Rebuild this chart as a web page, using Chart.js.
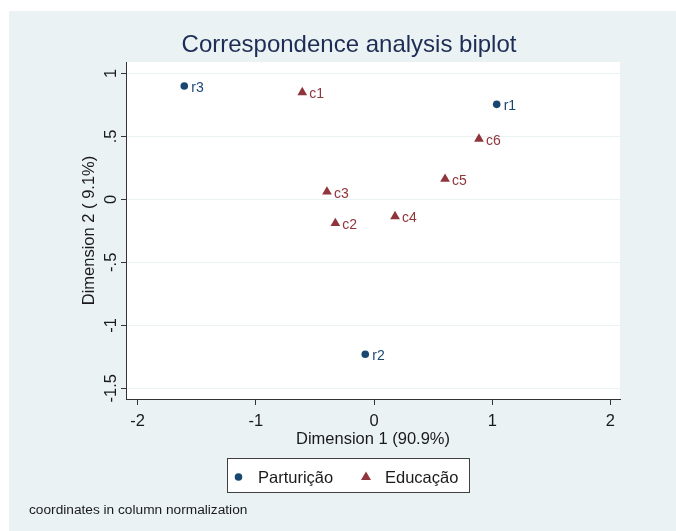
<!DOCTYPE html>
<html>
<head>
<meta charset="utf-8">
<script src="https://cdn.jsdelivr.net/npm/chart.js@4"></script>
<style>
  html, body { margin: 0; padding: 0; background: #ffffff; }
  #wrap { width: 676px; height: 531px; }
</style>
</head>
<body>
<div id="wrap"><canvas id="biplot" width="676" height="531"></canvas></div>
<script>
// row points (Parturição)
const rowLabels = ["r1", "r2", "r3"];
const rowX = [1.038, -0.074, -1.605];
const rowY = [0.754, -1.230, 0.899];

// column points (Educação)
const colLabels = ["c1", "c2", "c3", "c4", "c5", "c6"];
const colX = [-0.607, -0.327, -0.398, 0.178, 0.601, 0.888];
const colY = [0.849, -0.190, 0.060, -0.135, 0.161, 0.479];

const xTicks = [-2, -1, 0, 1, 2];
const yTicks = [-1.5, -1, -0.5, 0, 0.5, 1];
const yTickText = ["-1.5", "-1", "-.5", "0", ".5", "1"];

const NAVY = "#1a476f";
const MAROON = "#90353b";
const PANEL = "#eaf2f3";
const FONT = "'Liberation Sans', Arial, sans-serif";

const stataLook = {
  id: "stataLook",
  beforeDraw(chart) {
    const { ctx, chartArea } = chart;
    ctx.save();
    ctx.fillStyle = "#ffffff";
    ctx.fillRect(0, 0, chart.width, chart.height);
    ctx.fillStyle = PANEL;
    ctx.fillRect(9, 11, chart.width - 9, chart.height - 11);
    ctx.fillStyle = "#ffffff";
    ctx.fillRect(chartArea.left, chartArea.top,
      chartArea.right - chartArea.left, chartArea.bottom - chartArea.top);
    ctx.restore();
  },
  afterDraw(chart) {
    const { ctx, chartArea } = chart;
    const ys = chart.scales.y;
    ctx.save();

    // y tick labels, rotated like Stata
    ctx.fillStyle = "#1a1a1a";
    ctx.font = "16.5px " + FONT;
    ctx.textAlign = "center";
    ctx.textBaseline = "middle";
    yTicks.forEach((v, i) => {
      const py = ys.getPixelForValue(v);
      ctx.save();
      ctx.translate(111, py);
      ctx.rotate(-Math.PI / 2);
      ctx.fillText(yTickText[i], 0, 0);
      ctx.restore();
    });

    // axis titles
    ctx.save();
    ctx.translate(89, (chartArea.top + chartArea.bottom) / 2);
    ctx.rotate(-Math.PI / 2);
    ctx.fillText("Dimension 2 ( 9.1%)", 0, 0);
    ctx.restore();
    ctx.fillText("Dimension 1 (90.9%)", (chartArea.left + chartArea.right) / 2, 439);

    // main title
    ctx.fillStyle = "#1e2d55";
    ctx.font = "24px " + FONT;
    ctx.fillText("Correspondence analysis biplot", 349, 45);

    // point labels
    ctx.font = "14px " + FONT;
    ctx.textAlign = "left";
    const labelSets = [rowLabels, colLabels];
    chart.data.datasets.forEach((ds, di) => {
      const meta = chart.getDatasetMeta(di);
      ctx.fillStyle = ds.borderColor;
      meta.data.forEach((pt, j) => {
        ctx.fillText(labelSets[di][j], pt.x + 7, pt.y + 2);
      });
    });

    // legend box
    ctx.fillStyle = "#ffffff";
    ctx.fillRect(227.5, 458.5, 242, 34);
    ctx.strokeStyle = "#404040";
    ctx.lineWidth = 1;
    ctx.strokeRect(227.5, 458.5, 242, 34);
    ctx.fillStyle = NAVY;
    ctx.beginPath();
    ctx.arc(238.5, 477, 3.8, 0, Math.PI * 2);
    ctx.fill();
    ctx.fillStyle = MAROON;
    ctx.beginPath();
    ctx.moveTo(366, 471.5);
    ctx.lineTo(371, 480);
    ctx.lineTo(361, 480);
    ctx.closePath();
    ctx.fill();
    ctx.fillStyle = "#1a1a1a";
    ctx.font = "16.5px " + FONT;
    ctx.textBaseline = "middle";
    ctx.fillText(chart.data.datasets[0].label, 258, 478);
    ctx.fillText(chart.data.datasets[1].label, 385, 478);

    // note
    ctx.font = "13.7px " + FONT;
    ctx.fillText("coordinates in column normalization", 29, 510);

    ctx.restore();
  },
};

new Chart(document.getElementById("biplot"), {
  type: "scatter",
  data: {
    datasets: [
      {
        label: "Parturição",
        data: rowX.map((x, i) => ({ x, y: rowY[i] })),
        borderColor: NAVY,
        backgroundColor: NAVY,
        pointStyle: "circle",
        pointRadius: 3.8,
        borderWidth: 0,
      },
      {
        label: "Educação",
        data: colX.map((x, i) => ({ x, y: colY[i] })),
        borderColor: MAROON,
        backgroundColor: MAROON,
        pointStyle: "triangle",
        pointRadius: 5.6,
        borderWidth: 0,
      },
    ],
  },
  options: {
    responsive: false,
    animation: false,
    events: [],
    layout: { padding: { top: 62, right: 56, left: 0, bottom: 0 } },
    plugins: {
      legend: { display: false },
      title: { display: false },
      tooltip: { enabled: false },
    },
    scales: {
      x: {
        type: "linear",
        min: -2.098,
        max: 2.081,
        afterBuildTicks: (s) => { s.ticks = xTicks.map((v) => ({ value: v })); },
        afterFit: (s) => { s.height = 132; },
        grid: { drawOnChartArea: false, drawTicks: true, tickLength: 6, tickColor: "#333333" },
        border: { display: true, color: "#333333", width: 1 },
        ticks: {
          color: "#1a1a1a",
          font: { family: FONT, size: 16.5 },
          padding: 7,
          maxRotation: 0,
          callback: (v) => String(v),
        },
      },
      y: {
        type: "linear",
        min: -1.585,
        max: 1.09,
        afterBuildTicks: (s) => { s.ticks = yTicks.map((v) => ({ value: v })); },
        afterFit: (s) => { s.width = 126; },
        grid: { color: PANEL, lineWidth: 1, drawTicks: true, tickLength: 5, tickColor: "#333333" },
        border: { display: true, color: "#333333", width: 1 },
        ticks: { display: false },
      },
    },
  },
  plugins: [stataLook],
});
</script>
</body>
</html>
